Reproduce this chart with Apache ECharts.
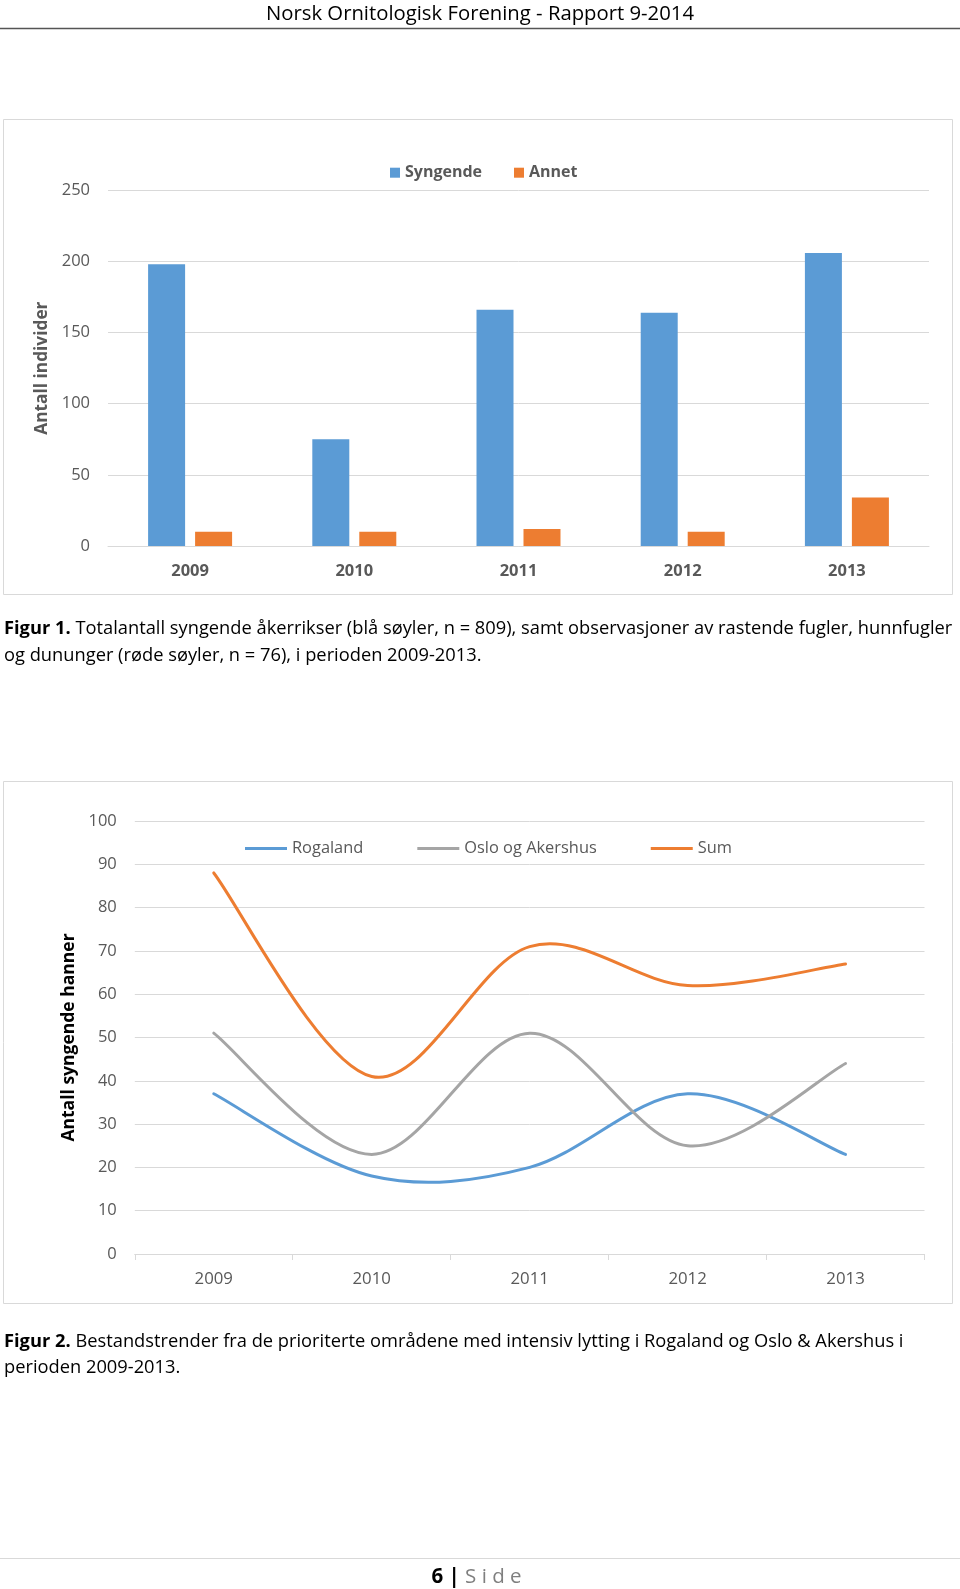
<!DOCTYPE html>
<html><head><meta charset="utf-8">
<script src="https://cdn.jsdelivr.net/npm/echarts@6/dist/echarts.min.js"></script>
<style>html,body{margin:0;padding:0;background:#fff}#c{width:960px;height:1589px}</style>
</head><body><div id="c"></div>
<script>
// ---- data ----
const years = ['2009', '2010', '2011', '2012', '2013'];
const syngende = [198, 75, 166, 164, 206];
const annet = [10, 10, 12, 10, 34];
const rogaland = [37, 18, 20, 37, 23];
const osloAkershus = [51, 23, 51, 25, 44];
const sumHanner = [88, 41, 71, 62, 67];
const headerText = 'Norsk Ornitologisk Forening - Rapport 9-2014';
const caption1 = ['{b|Figur 1.} Totalantall syngende åkerrikser (blå søyler, n = 809), samt observasjoner av rastende fugler, hunnfugler',
                  'og dununger (røde søyler, n = 76), i perioden 2009-2013.'];
const caption2 = ['{b|Figur 2.} Bestandstrender fra de prioriterte områdene med intensiv lytting i Rogaland og Oslo & Akershus i',
                  'perioden 2009-2013.'];

const FONT = 'Open Sans';
const GRAY = '#595959';
const GRID = '#d9d9d9';
const BLUE = '#5B9BD5', ORANGE = '#ED7D31', LGRAY = '#A5A5A5';
const CAP = 18.3;

const chart = echarts.init(document.getElementById('c'), null, {renderer: 'canvas'});

// Excel-like smoothed curve through the points, placed with the axis scales
function smoothPath(vals, api) {
  const pts = vals.map((v, i) => api.coord([i, v]));
  let d = 'M' + pts[0][0] + ' ' + pts[0][1];
  for (let i = 0; i < pts.length - 1; i++) {
    const p0 = pts[Math.max(i - 1, 0)], p1 = pts[i], p2 = pts[i + 1], p3 = pts[Math.min(i + 2, pts.length - 1)];
    const c1x = p1[0] + (p2[0] - p0[0]) / 6, c1y = p1[1] + (p2[1] - p0[1]) / 6;
    const c2x = p2[0] - (p3[0] - p1[0]) / 6, c2y = p2[1] - (p3[1] - p1[1]) / 6;
    d += ' C' + c1x + ' ' + c1y + ' ' + c2x + ' ' + c2y + ' ' + p2[0] + ' ' + p2[1];
  }
  return d;
}
function curveSeries(name, vals, color) {
  return {
    name: name, type: 'custom', xAxisIndex: 1, yAxisIndex: 1,
    itemStyle: {color: color},
    data: vals.map((v, i) => [i, v]),
    renderItem: function (params, api) {
      if (params.dataIndex !== 0) return null;
      return {type: 'path', shape: {pathData: smoothPath(vals, api)},
        style: {fill: 'none', stroke: color, lineWidth: 3, lineCap: 'round', lineJoin: 'round'}};
    }
  };
}

function textEl(x, y, text, opts) {
  return {
    type: 'text', x: x, y: y, silent: true,
    style: Object.assign({
      text: text, fontFamily: FONT, fontSize: CAP, fill: '#000',
      textAlign: 'left', textVerticalAlign: 'middle', align: 'left', verticalAlign: 'middle'
    }, opts || {})
  };
}
const boldRich = {b: {fontWeight: 'bold', fontFamily: FONT, fontSize: CAP, fill: '#000'}};

const option = {
  backgroundColor: '#fff',
  animation: false,
  color: [BLUE, ORANGE, BLUE, LGRAY, ORANGE],
  textStyle: {fontFamily: FONT},
  grid: [
    {left: 108, right: 31, top: 190.3, height: 355.7, containLabel: false},
    {left: 134.8, right: 35.5, top: 821, height: 433, containLabel: false}
  ],
  legend: [
    {
      data: ['Syngende', 'Annet'], left: 385, top: 159.7, orient: 'horizontal',
      itemWidth: 10, itemHeight: 10, itemGap: 32, icon: 'rect',
      textStyle: {fontFamily: FONT, fontSize: 16, fontWeight: 'bold', color: GRAY}
    },
    {
      data: [{name: 'Rogaland', icon: 'rect'}, {name: 'Oslo og Akershus', icon: 'rect'}, {name: 'Sum', icon: 'rect'}],
      left: 240, top: 835.5, orient: 'horizontal',
      itemWidth: 42, itemHeight: 3, itemGap: 54,
      textStyle: {fontFamily: FONT, fontSize: 16.4, color: GRAY}
    }
  ],
  xAxis: [
    {
      type: 'category', gridIndex: 0, data: years, boundaryGap: true,
      axisLine: {show: true, lineStyle: {color: GRID, width: 1}},
      axisTick: {show: false},
      axisLabel: {margin: 17, fontSize: 16.5, fontWeight: 'bold', color: GRAY, fontFamily: FONT},
      splitLine: {show: false}
    },
    {
      type: 'category', gridIndex: 1, data: years, boundaryGap: true,
      axisLine: {show: true, lineStyle: {color: GRID, width: 1}},
      axisTick: {show: true, length: 6, lineStyle: {color: GRID}, alignWithLabel: false, interval: 0},
      axisLabel: {margin: 17, fontSize: 16.8, color: GRAY, fontFamily: FONT},
      splitLine: {show: false}
    }
  ],
  yAxis: [
    {
      type: 'value', gridIndex: 0, min: 0, max: 250, interval: 50,
      name: 'Antall individer', nameLocation: 'middle', nameGap: 49,
      nameTextStyle: {fontSize: 17.3, fontWeight: 'bold', color: GRAY, fontFamily: FONT},
      axisLine: {show: false}, axisTick: {show: false},
      axisLabel: {margin: 18, fontSize: 16.5, color: GRAY, fontFamily: FONT},
      splitLine: {show: true, lineStyle: {color: GRID, width: 1}}
    },
    {
      type: 'value', gridIndex: 1, min: 0, max: 100, interval: 10,
      name: 'Antall syngende hanner', nameLocation: 'middle', nameGap: 42,
      nameTextStyle: {fontSize: 17.5, fontWeight: 'bold', color: '#000', fontFamily: FONT},
      axisLine: {show: false}, axisTick: {show: false},
      axisLabel: {margin: 18, fontSize: 16.5, color: GRAY, fontFamily: FONT},
      splitLine: {show: true, lineStyle: {color: GRID, width: 1}}
    }
  ],
  series: [
    {name: 'Syngende', type: 'bar', xAxisIndex: 0, yAxisIndex: 0, data: syngende,
     barWidth: 37, barGap: '27%', itemStyle: {color: BLUE}},
    {name: 'Annet', type: 'bar', xAxisIndex: 0, yAxisIndex: 0, data: annet,
     barWidth: 37, barGap: '27%', itemStyle: {color: ORANGE}},
    curveSeries('Rogaland', rogaland, BLUE),
    curveSeries('Oslo og Akershus', osloAkershus, LGRAY),
    curveSeries('Sum', sumHanner, ORANGE)
  ],
  graphic: {
    elements: [
      // header
      textEl(480, 14, headerText, {fontSize: 20.3, textAlign: 'center', align: 'center'}),
      {type: 'line', silent: true, shape: {x1: 0, y1: 28.5, x2: 960, y2: 28.5}, style: {stroke: '#555', lineWidth: 1.5}},
      // chart frames
      {type: 'rect', silent: true, shape: {x: 3.5, y: 119.5, width: 949, height: 475}, style: {fill: 'none', stroke: GRID, lineWidth: 1}},
      {type: 'rect', silent: true, shape: {x: 3.5, y: 781.5, width: 949, height: 522}, style: {fill: 'none', stroke: GRID, lineWidth: 1}},
      // captions
      textEl(4, 628.5, caption1[0], {rich: boldRich}),
      textEl(4, 655.5, caption1[1]),
      textEl(4, 1342, caption2[0], {rich: boldRich}),
      textEl(4, 1367.5, caption2[1]),
      // footer
      {type: 'line', silent: true, shape: {x1: 0, y1: 1558.5, x2: 960, y2: 1558.5}, style: {stroke: GRID, lineWidth: 1}},
      textEl(476.5, 1577, '{n|6 |}{s| S i d e}', {textAlign: 'center', align: 'center',
        rich: {n: {fontWeight: 'bold', fontSize: 20.5, fontFamily: FONT, fill: '#000'},
               s: {fontSize: 20.5, fontFamily: FONT, fill: '#7f7f7f'}}})
    ]
  }
};
chart.setOption(option);
</script>
</body></html>
